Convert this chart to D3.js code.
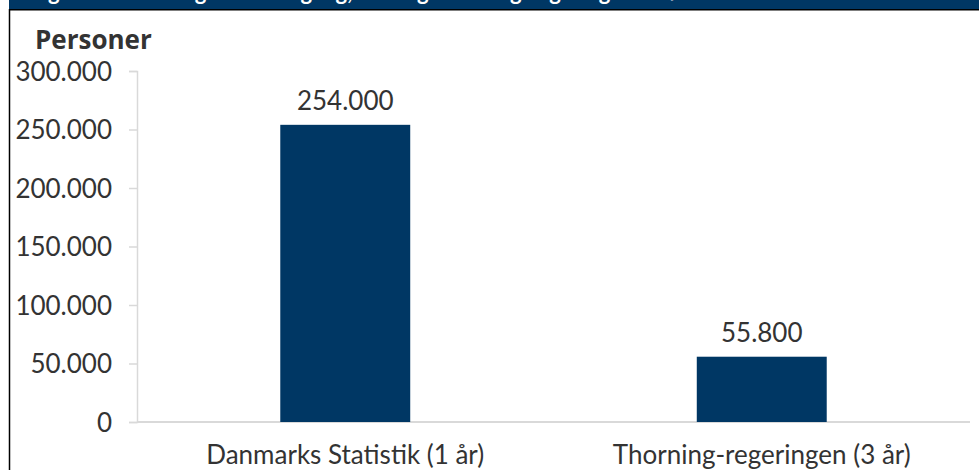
<!DOCTYPE html>
<html><head><meta charset="utf-8">
<script src="https://cdn.jsdelivr.net/npm/d3@7"></script>
<style>
html,body{margin:0;padding:0;background:#fff;}
svg{display:block;font-family:Lato,"Open Sans",sans-serif;}
</style></head>
<body><svg id="c" width="979" height="470"></svg>
<script>
const categories = ["Danmarks Statistik (1 år)", "Thorning-regeringen (3 år)"];
const values = [254000, 55800];
const yTicks = [0, 50000, 100000, 150000, 200000, 250000, 300000];
const yLabel = "Personer";
const title = "Figur 1. Beskæftigelsesfremgang, DST og Thorning-regeringens skøn";

const navy = "#003764", txt = "#333333", grid = "#d9d9d9";
const loc = d3.formatLocale({decimal: ",", thousands: ".", grouping: [3], currency: ["", " kr."]});
const fmt = loc.format(",.0f");

const svg = d3.select("#c");
// header bar
svg.append("rect").attr("x", 9).attr("y", 0).attr("width", 970).attr("height", 9.5).attr("fill", navy);
svg.append("text").attr("x", 30).attr("y", 0).attr("fill", "#fff").attr("font-weight", "bold")
  .attr("font-size", 22).text(title);
svg.append("line").attr("x1", 9).attr("x2", 979).attr("y1", 9.8).attr("y2", 9.8).attr("stroke", "#000").attr("stroke-width", 1.6);
svg.append("line").attr("x1", 9.5).attr("x2", 9.5).attr("y1", 9).attr("y2", 470).attr("stroke", "#000").attr("stroke-width", 1.5);

const y = d3.scaleLinear().domain([0, 300000]).range([422, 71]);
const x = d3.scaleBand().domain(categories).range([137, 970]).paddingInner(0.688).paddingOuter(0.344);

// y axis
const yAxis = svg.append("g").attr("transform", "translate(137,0)")
  .call(d3.axisLeft(y).tickValues(yTicks).tickFormat(d => fmt(d)).tickSize(8).tickPadding(17));
yAxis.select(".domain").attr("stroke", grid).attr("stroke-width", 1.5);
yAxis.selectAll(".tick line").attr("stroke", grid).attr("stroke-width", 1.5);
yAxis.selectAll(".tick text").attr("fill", txt).attr("font-size", 26).attr("font-family", "Lato").attr("dy", "0.36em");

// x baseline
svg.append("line").attr("x1", 137).attr("x2", 970).attr("y1", y(0)).attr("y2", y(0)).attr("stroke", grid).attr("stroke-width", 2);

// bars
svg.selectAll("rect.bar").data(values).join("rect").attr("class", "bar")
  .attr("x", (d, i) => x(categories[i])).attr("width", x.bandwidth())
  .attr("y", d => y(d)).attr("height", d => y(0) - y(d)).attr("fill", navy);

// value labels
svg.selectAll("text.val").data(values).join("text").attr("class", "val")
  .attr("x", (d, i) => x(categories[i]) + x.bandwidth() / 2).attr("y", d => y(d) - 15)
  .attr("text-anchor", "middle").attr("fill", txt).attr("font-size", 26).text(d => fmt(d));

// category labels
svg.selectAll("text.cat").data(categories).join("text").attr("class", "cat")
  .attr("x", d => x(d) + x.bandwidth() / 2).attr("y", 464)
  .attr("text-anchor", "middle").attr("fill", txt).attr("font-size", 26).text(d => d);

// y label
svg.append("text").attr("x", 35).attr("y", 49).attr("fill", txt).attr("font-weight", "bold")
  .attr("font-family", "'Open Sans', Lato, sans-serif")
  .attr("font-size", 26).text(yLabel);
</script></body></html>
